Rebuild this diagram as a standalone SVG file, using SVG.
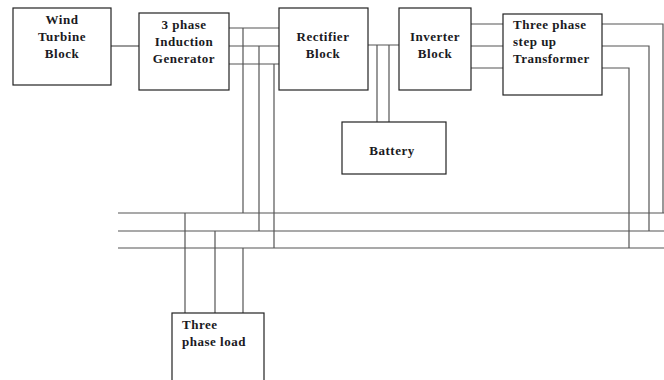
<svg xmlns="http://www.w3.org/2000/svg" width="664" height="380" viewBox="0 0 664 380">
<style>
.box{fill:#fff;stroke:#222;stroke-width:1.2}
.w{stroke:#555;stroke-width:1.2;fill:none}
text{font-family:"Liberation Serif","Times New Roman",serif;font-weight:bold;font-size:13px;fill:#1a1a22;letter-spacing:0.5px}
.c{text-anchor:middle}
</style>
<rect width="664" height="380" fill="#fff"/>
<g id="connectors">
<path class="w" d="M111 46H139"/>
<path class="w" d="M229 28H279M229 46H279M229 64H279"/>
<path class="w" d="M243 28V213M259 46V231M274 64V248"/>
<path class="w" d="M118 213H664M118 231H664M118 248H664"/>
<path class="w" d="M185 213V313M215 231V313M243 248V313"/>
<path class="w" d="M368 45H399M377 45V122M389 45V122"/>
<path class="w" d="M471 24H503M471 46H503M471 68H503"/>
<path class="w" d="M602 24H663V213M602 46H649V231M602 68H629V248"/>
</g>
<g id="wind"><rect class="box" x="13" y="8" width="98" height="77"/>
<text class="c" x="62" y="24">Wind</text><text class="c" x="62" y="41">Turbine</text><text class="c" x="62" y="58">Block</text></g>
<g id="generator"><rect class="box" x="139" y="13" width="90" height="77"/>
<text class="c" x="184" y="29">3 phase</text><text class="c" x="184" y="46">Induction</text><text class="c" x="184" y="63">Generator</text></g>
<g id="rectifier"><rect class="box" x="279" y="8" width="89" height="82"/>
<text class="c" x="323" y="41">Rectifier</text><text class="c" x="323" y="58">Block</text></g>
<g id="inverter"><rect class="box" x="399" y="8" width="72" height="82"/>
<text class="c" x="435" y="41">Inverter</text><text class="c" x="435" y="58">Block</text></g>
<g id="transformer"><rect class="box" x="503" y="14" width="99" height="81"/>
<text x="513" y="29">Three phase</text><text x="513" y="46">step up</text><text x="513" y="63">Transformer</text></g>
<g id="battery"><rect class="box" x="342" y="122" width="104" height="52"/>
<text class="c" x="392" y="155">Battery</text></g>
<g id="load"><rect class="box" x="172" y="313" width="92" height="70"/>
<text x="182" y="329">Three</text><text x="182" y="346">phase load</text></g>
</svg>
